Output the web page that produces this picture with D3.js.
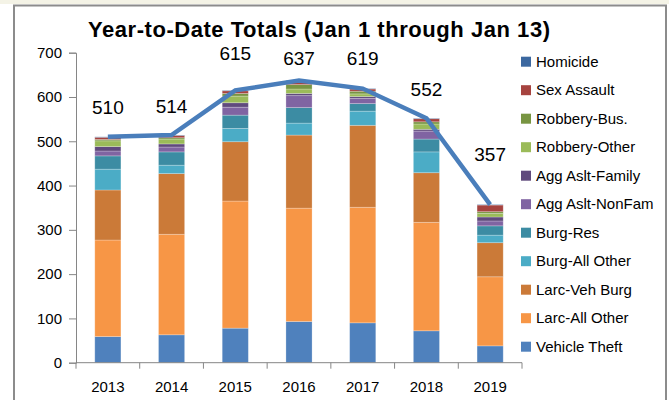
<!DOCTYPE html>
<html>
<head>
<meta charset="utf-8">
<script src="https://cdn.jsdelivr.net/npm/d3@7"></script>
<style>
  body { margin: 0; background: #fff; }
  svg { display: block; font-family: "Liberation Sans", Arial, sans-serif; }
</style>
</head>
<body>
<svg id="container" width="669" height="400"></svg>
<script>
// years on the x axis
const years = ["2013", "2014", "2015", "2016", "2017", "2018", "2019"];

// stacked series, bottom to top
const vehicleTheft = [59, 63, 78, 93, 90, 72, 38];
const larcAllOther = [218, 227, 287, 256, 261, 245, 156];
const larcVehBurg  = [113, 137, 134, 165, 185, 112, 77];
const burgAllOther = [47, 19, 30, 27, 32, 47, 17];
const burgRes      = [30, 30, 30, 35, 17, 29, 21];
const aggNonFam    = [11, 11, 18, 27, 12, 18, 11];
const aggFamily    = [10, 7, 10, 5, 4, 4, 9];
const robberyOther = [13, 11, 15, 10, 6, 12, 8];
const robberyBus   = [3, 3, 6, 10, 6, 5, 4];
const sexAssault   = [5, 5, 6, 6, 5, 7, 15];
const homicide     = [1, 1, 1, 3, 1, 1, 1];

// line series (year totals)
const totals = [510, 514, 615, 637, 619, 552, 357];

const yTicks = [0, 100, 200, 300, 400, 500, 600, 700];

const series = [
  { name: "Vehicle Theft", values: vehicleTheft, color: "#4f81bd" },
  { name: "Larc-All Other", values: larcAllOther, color: "#f79646" },
  { name: "Larc-Veh Burg", values: larcVehBurg, color: "#cb7a38" },
  { name: "Burg-All Other", values: burgAllOther, color: "#4bacc6" },
  { name: "Burg-Res", values: burgRes, color: "#3c8ca3" },
  { name: "Agg Aslt-NonFam", values: aggNonFam, color: "#8064a2" },
  { name: "Agg Aslt-Family", values: aggFamily, color: "#604a7d" },
  { name: "Robbery-Other", values: robberyOther, color: "#9bbb59" },
  { name: "Robbery-Bus.", values: robberyBus, color: "#789542" },
  { name: "Sex Assault", values: sexAssault, color: "#a6433f" },
  { name: "Homicide", values: homicide, color: "#3c68a0" }
];

// how far each total label sits above its line point (hand-placed in the original)
const labelLift = [29, 29, 37, 22, 30, 29, 50];

const svg = d3.select('#container');
const width = +svg.attr('width');

// page strip and frame
svg.append('rect').attr('x', 0).attr('y', 0).attr('width', width).attr('height', 4)
  .attr('fill', '#f4f3e6');
svg.append('path')
  .attr('d', 'M14,402V5.5H666V402')
  .attr('fill', 'none')
  .attr('stroke', '#8c8c8c')
  .attr('stroke-width', 2);

const x = d3.scaleBand()
  .domain(years)
  .range([76, 522])
  .paddingInner(0.59)
  .paddingOuter(0.295);

const y = d3.scaleLinear()
  .domain([0, 700])
  .range([362.7, 52.7]);

// title
svg.append('text')
  .attr('x', 319)
  .attr('y', 37)
  .attr('text-anchor', 'middle')
  .attr('font-size', 22)
  .attr('font-weight', 'bold')
  .attr('fill', '#000')
  .attr('textLength', 462)
  .attr('lengthAdjust', 'spacing')
  .text('Year-to-Date Totals (Jan 1 through Jan 13)');

// stack
const table = years.map((yr, i) => {
  const row = { year: yr };
  series.forEach(s => row[s.name] = s.values[i]);
  return row;
});
const stacked = d3.stack().keys(series.map(s => s.name))(table);

svg.append('g')
  .selectAll('g')
  .data(stacked)
  .join('g')
  .attr('fill', (d, i) => series[i].color)
  .selectAll('rect')
  .data(d => d)
  .join('rect')
  .attr('x', d => x(d.data.year))
  .attr('width', x.bandwidth())
  .attr('y', d => y(d[1]))
  .attr('height', d => y(d[0]) - y(d[1]))
  .attr('stroke', 'rgba(255,255,255,0.3)')
  .attr('stroke-width', 0.8);

// y axis
const yAxis = svg.append('g')
  .attr('transform', 'translate(76,0)')
  .call(d3.axisLeft(y).tickValues(yTicks).tickSize(7).tickPadding(7));
yAxis.selectAll('path, line').attr('stroke', '#868686');
yAxis.selectAll('text').attr('font-size', 15).attr('fill', '#000')
  .attr('font-family', '"Liberation Sans", Arial, sans-serif');

// x axis: ticks between categories
const xAxis = svg.append('g').attr('transform', 'translate(0,362.7)');
xAxis.append('line').attr('x1', 76).attr('x2', 522).attr('stroke', '#868686');
const step = x.step();
xAxis.selectAll('line.tick')
  .data(d3.range(years.length + 1))
  .join('line')
  .attr('class', 'tick')
  .attr('x1', i => 76 + i * step).attr('x2', i => 76 + i * step)
  .attr('y1', 0).attr('y2', 6)
  .attr('stroke', '#868686');
xAxis.selectAll('text')
  .data(years)
  .join('text')
  .attr('x', d => x(d) + x.bandwidth() / 2)
  .attr('y', 29)
  .attr('text-anchor', 'middle')
  .attr('font-size', 15)
  .text(d => d);

// total line
const line = d3.line()
  .x((d, i) => x(years[i]) + x.bandwidth() / 2)
  .y(d => y(d));
svg.append('path')
  .datum(totals)
  .attr('d', line)
  .attr('fill', 'none')
  .attr('stroke', '#4a7ebb')
  .attr('stroke-width', 4.5);

// total labels
svg.append('g')
  .selectAll('text')
  .data(totals)
  .join('text')
  .attr('x', (d, i) => x(years[i]) + x.bandwidth() / 2)
  .attr('y', (d, i) => y(d) - labelLift[i])
  .attr('dy', '0.35em')
  .attr('text-anchor', 'middle')
  .attr('font-size', 19)
  .text(d => d);

// legend, top entry is the last stack series
const legend = svg.append('g')
  .selectAll('g')
  .data(series.slice().reverse())
  .join('g')
  .attr('transform', (d, i) => `translate(521,${61.7 + i * 28.5})`);
legend.append('rect')
  .attr('x', 0).attr('y', -5)
  .attr('width', 10).attr('height', 10)
  .attr('fill', d => d.color);
legend.append('text')
  .attr('x', 15)
  .attr('dy', '0.35em')
  .attr('font-size', 15)
  .text(d => d.name);
</script>
</body>
</html>
